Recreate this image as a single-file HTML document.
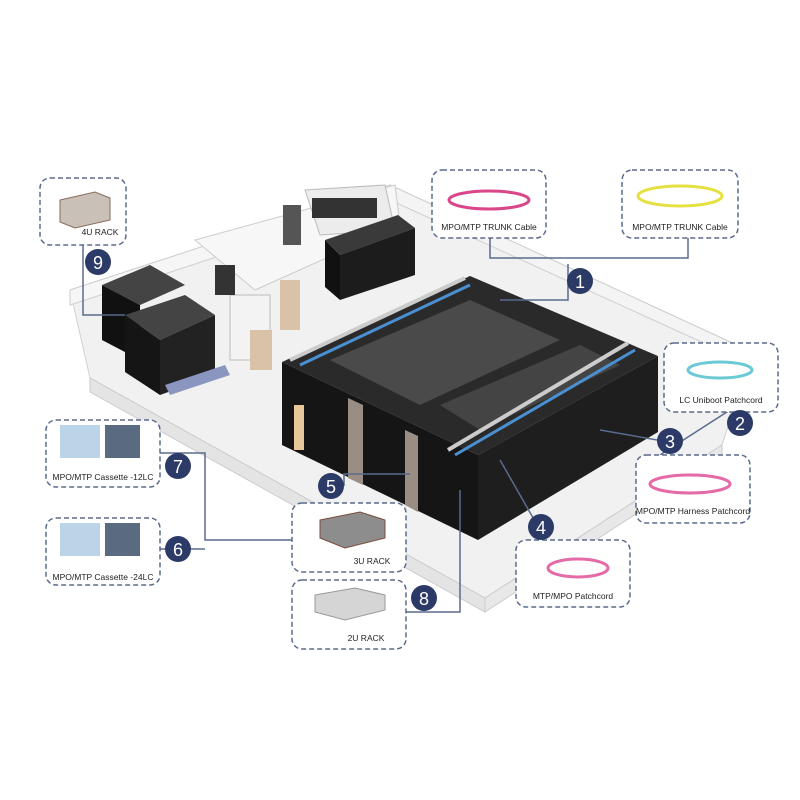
<!DOCTYPE html>
<html><head><meta charset="utf-8"><style>
html,body{margin:0;padding:0;background:#fff}
svg{display:block}
text{font-family:"Liberation Sans",sans-serif}
</style></head><body>
<svg width="800" height="800" viewBox="0 0 800 800" xmlns="http://www.w3.org/2000/svg">
<rect width="800" height="800" fill="#fff"/>
<!-- floor -->
<polygon points="70,290 390,185 752,352 722,445 485,598 90,378" fill="#f1f1f1" stroke="#d0d0d0"/>
<polygon points="90,378 485,598 485,612 90,392" fill="#e4e4e4" stroke="#ccc"/>
<polygon points="485,598 722,445 722,458 485,612" fill="#e8e8e8" stroke="#ccc"/>
<!-- back walls -->
<polygon points="70,290 390,185 390,200 70,305" fill="#f6f6f6" stroke="#cfcfcf"/>
<polygon points="390,185 752,352 752,365 390,200" fill="#f4f4f4" stroke="#cfcfcf"/>
<!-- room glass -->
<polygon points="195,240 395,185 400,225 255,290" fill="#f7f7f7" stroke="#ccc"/>
<polygon points="305,190 385,185 395,230 320,235" fill="#ececec" stroke="#bbb"/>
<rect x="312" y="198" width="65" height="20" fill="#333"/>
<rect x="283" y="205" width="18" height="40" fill="#555"/>
<rect x="230" y="295" width="40" height="65" fill="#f3f3f3" stroke="#bbb"/>
<rect x="280" y="280" width="20" height="50" fill="#d9c2a8"/>
<rect x="250" y="330" width="22" height="40" fill="#d9c2a8"/>
<rect x="215" y="265" width="20" height="30" fill="#333"/>
<!-- back racks -->
<polygon points="325,240 398,215 415,228 340,255" fill="#3a3a3a"/>
<polygon points="325,240 340,255 340,300 325,287" fill="#111"/>
<polygon points="340,255 415,228 415,275 340,300" fill="#1c1c1c"/>
<!-- left cluster -->
<polygon points="102,285 150,265 185,285 140,305" fill="#444"/>
<polygon points="102,285 140,305 140,360 102,340" fill="#111"/>
<polygon points="125,315 185,295 215,315 160,340" fill="#444"/>
<polygon points="125,315 160,340 160,395 125,372" fill="#151515"/>
<polygon points="160,340 215,315 215,375 160,395" fill="#222"/>
<polygon points="165,385 225,365 230,375 170,395" fill="#8a96c0"/>
<!-- main pod -->
<polygon points="282,362 470,276 658,356 478,455" fill="#2a2a2a"/>
<polygon points="282,362 478,455 478,540 282,445" fill="#151515"/>
<polygon points="478,455 658,356 658,432 478,540" fill="#1e1e1e"/>
<polygon points="330,360 470,300 560,340 420,405" fill="#4a4a4a"/>
<polygon points="440,405 580,345 620,365 480,430" fill="#444"/>
<polygon points="348,398 363,405 363,485 348,478" fill="#9a8e84"/>
<polygon points="405,430 418,436 418,512 405,505" fill="#9a8e84"/>
<line x1="300" y1="365" x2="470" y2="285" stroke="#4a8fd0" stroke-width="3"/>
<line x1="290" y1="360" x2="465" y2="278" stroke="#ccc" stroke-width="4"/>
<line x1="455" y1="455" x2="635" y2="350" stroke="#4a8fd0" stroke-width="3"/>
<line x1="448" y1="450" x2="628" y2="343" stroke="#ccc" stroke-width="4"/>
<rect x="294" y="405" width="10" height="45" fill="#e8c89a"/>
<!-- connectors -->
<g fill="none" stroke="#5b6b8e" stroke-width="1.5">
<polyline points="490,238 490,258 688,258 688,238"/>
<polyline points="568,264 568,300 500,300"/>
<polyline points="83,245 83,315 125,315"/>
<polyline points="160,453 205,453 205,540 292,540"/>
<line x1="160" y1="549" x2="205" y2="549"/>
<polyline points="344,486 344,474 410,474"/>
<polyline points="406,612 460,612 460,490"/>
<polyline points="600,430 680,444"/>
<line x1="660" y1="455" x2="730" y2="410"/>
<line x1="500" y1="460" x2="540" y2="530"/>
</g>
<!-- boxes -->
<g fill="#fff" stroke="#5b6b8e" stroke-width="1.5" stroke-dasharray="5,3">
<rect x="40" y="178" width="86" height="67" rx="10"/>
<rect x="432" y="170" width="114" height="68" rx="10"/>
<rect x="622" y="170" width="116" height="68" rx="10"/>
<rect x="664" y="343" width="114" height="69" rx="10"/>
<rect x="636" y="455" width="114" height="68" rx="10"/>
<rect x="516" y="540" width="114" height="67" rx="10"/>
<rect x="292" y="503" width="114" height="69" rx="10"/>
<rect x="292" y="580" width="114" height="69" rx="10"/>
<rect x="46" y="420" width="114" height="67" rx="10"/>
<rect x="46" y="518" width="114" height="67" rx="10"/>
</g>
<polygon points="60,200 95,192 110,198 110,220 75,228 60,222" fill="#c9c0b8" stroke="#8a6b5a"/>
<ellipse cx="489" cy="200" rx="40" ry="9" fill="none" stroke="#d9478a" stroke-width="3"/>
<ellipse cx="680" cy="196" rx="42" ry="10" fill="none" stroke="#e6e040" stroke-width="3"/>
<ellipse cx="720" cy="370" rx="32" ry="8" fill="none" stroke="#6cc9d6" stroke-width="3"/>
<ellipse cx="690" cy="484" rx="40" ry="9" fill="none" stroke="#e56aa8" stroke-width="3"/>
<ellipse cx="578" cy="568" rx="30" ry="9" fill="none" stroke="#e56aa8" stroke-width="3"/>
<polygon points="320,520 360,512 385,520 385,538 345,548 320,538" fill="#8d8d8d" stroke="#7a4c3a"/>
<polygon points="315,595 355,588 385,595 385,610 345,620 315,612" fill="#d5d5d5" stroke="#999"/>
<rect x="60" y="425" width="40" height="33" fill="#bcd4e8"/><rect x="105" y="425" width="35" height="33" fill="#5a6a80"/>
<rect x="60" y="523" width="40" height="33" fill="#bcd4e8"/><rect x="105" y="523" width="35" height="33" fill="#5a6a80"/>
<g font-size="8.5" fill="#222" text-anchor="middle">
<text x="100" y="235">4U RACK</text>
<text x="489" y="230">MPO/MTP TRUNK Cable</text>
<text x="680" y="230">MPO/MTP TRUNK Cable</text>
<text x="721" y="403">LC Uniboot Patchcord</text>
<text x="693" y="514">MPO/MTP Harness Patchcord</text>
<text x="573" y="599">MTP/MPO Patchcord</text>
<text x="372" y="564">3U RACK</text>
<text x="366" y="641">2U RACK</text>
<text x="103" y="480">MPO/MTP Cassette -12LC</text>
<text x="103" y="580">MPO/MTP Cassette -24LC</text>
</g>
<g fill="#2b3a67">
<circle cx="580" cy="281" r="13"/><circle cx="740" cy="423" r="13"/><circle cx="670" cy="441" r="13"/>
<circle cx="541" cy="527" r="13"/><circle cx="331" cy="486" r="13"/><circle cx="178" cy="549" r="13"/>
<circle cx="178" cy="466" r="13"/><circle cx="424" cy="598" r="13"/><circle cx="98" cy="262" r="13"/>
</g>
<g fill="#fff" font-size="18" text-anchor="middle">
<text x="580" y="288">1</text><text x="740" y="430">2</text><text x="670" y="448">3</text>
<text x="541" y="534">4</text><text x="331" y="493">5</text><text x="178" y="556">6</text>
<text x="178" y="473">7</text><text x="424" y="605">8</text><text x="98" y="269">9</text>
</g>
</svg>
</body></html>
